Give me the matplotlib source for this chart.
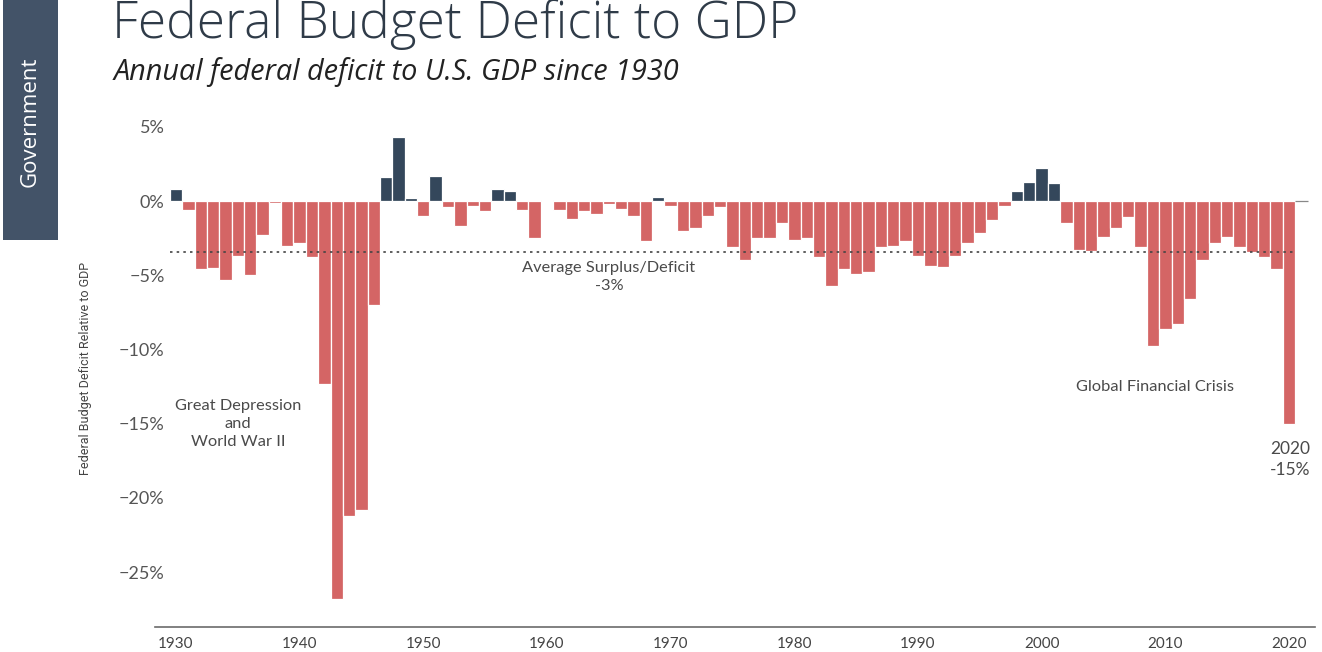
import matplotlib
matplotlib.use("Agg")
import matplotlib.pyplot as plt
import matplotlib.ticker as mticker
import numpy as np
from matplotlib.patches import Rectangle

years = list(range(1930, 2022))
deficit_pct = [
    0.8, -0.6, -4.6, -4.5, -5.3, -3.7, -5.0, -2.3, -0.1, -3.0,   # 1930s
    -2.8, -3.8, -12.3, -26.8, -21.2, -20.8, -7.0, 1.6, 4.3, 0.2,  # 1940s
    -1.0, 1.7, -0.4, -1.7, -0.3, -0.7, 0.8, 0.7, -0.6, -2.5,      # 1950s
    0.05, -0.6, -1.2, -0.7, -0.9, -0.2, -0.5, -1.0, -2.7, 0.3,    # 1960s
    -0.3, -2.0, -1.8, -1.0, -0.4, -3.1, -4.0, -2.5, -2.5, -1.5,   # 1970s
    -2.6, -2.5, -3.8, -5.7, -4.6, -4.9, -4.8, -3.1, -3.0, -2.7,   # 1980s
    -3.7, -4.35, -4.45, -3.7, -2.8, -2.15, -1.3, -0.3, 0.7, 1.3,  # 1990s
    2.25, 1.2, -1.45, -3.3, -3.35, -2.45, -1.8, -1.1, -3.1, -9.75, # 2000s
    -8.6, -8.3, -6.6, -4.0, -2.8, -2.45, -3.1, -3.4, -3.8, -4.6,  # 2010s
    -15.0, 0.0,                                                   # 2020, 2021
]
average_pct = -3.4
x_ticks = [1930, 1940, 1950, 1960, 1970, 1980, 1990, 2000, 2010, 2020]
y_ticks = [5, 0, -5, -10, -15, -20, -25]

RED = "#D46565"
DARK = "#34475B"
TXT = "#4A4A4A"

plt.rcParams['font.family'] = ['Lato', 'DejaVu Sans']

fig = plt.figure(figsize=(13.22, 6.52), dpi=100)
ax = fig.add_axes([0.1172, 0.0383, 0.8775, 0.7853])

colors = []
for y, v in zip(years, deficit_pct):
    if v > 0:
        colors.append(DARK)
    elif v == 0:
        colors.append("#888888")
    else:
        colors.append(RED)
edges = ["#888888" if v == 0 else "white" for v in deficit_pct]
ax.bar(years, deficit_pct, width=1.0, color=colors, edgecolor=edges, linewidth=0.9)

ax.hlines(average_pct, years[0] - 0.5, years[-2] + 0.5, colors="#444444",
          linestyles=(0, (1.5, 2.5)), linewidth=1.2, zorder=3)

ax.set_xlim(1928.3, 2022.1)
ax.set_ylim(-28.7, 5.8)

for s in ["top", "right", "left"]:
    ax.spines[s].set_visible(False)
ax.spines["bottom"].set_color("#6B6B6B")
ax.spines["bottom"].set_linewidth(1.2)

ax.set_xticks(x_ticks)
ax.set_yticks(y_ticks)
ax.yaxis.set_major_formatter(mticker.FuncFormatter(
    lambda v, p: (f"{int(v)}%" if v >= 0 else f"\u2212{int(-v)}%")))
ax.tick_params(axis="y", length=0, pad=-7, labelsize=13, labelcolor="#555555")
ax.tick_params(axis="x", length=0, pad=7, labelsize=11, labelcolor="#444444")

ax.set_ylabel("Federal Budget Deficit Relative to GDP", fontsize=9,
              color="#444444", family=['Roboto', 'DejaVu Sans'])
ax.yaxis.set_label_coords(-0.054, 0.506)

# annotations
ax.text(1935.0, -15.0, "Great Depression\nand\nWorld War II", ha="center", va="center",
        fontsize=11.8, color=TXT, linespacing=1.35)
ax.text(1965.0, -5.1, "Average Surplus/Deficit\n-3%", ha="center", va="center",
        fontsize=11.8, color=TXT, linespacing=1.35)
ax.text(2009.2, -12.5, "Global Financial Crisis", ha="center", va="center",
        fontsize=11.8, color=TXT)
ax.text(2020.1, -17.4, "2020\n-15%", ha="center", va="center",
        fontsize=12.5, color=TXT, linespacing=1.35)

# title & subtitle
fig.text(0.085, 0.942, "Federal Budget Deficit to GDP", fontsize=37,
         color="#2F3B48", family=['Open Sans', 'DejaVu Sans'], fontweight="light",
         va="baseline")
fig.text(0.086, 0.878, "Annual federal deficit to U.S. GDP since 1930", fontsize=20.8,
         color="#222222", family=['Open Sans', 'DejaVu Sans'], style="italic",
         va="baseline")

# side tab
fig.patches.append(Rectangle((3 / 1322, 1 - 240 / 652), 55 / 1322, 240 / 652,
                             transform=fig.transFigure, facecolor="#435368",
                             edgecolor="none"))
fig.text(30.5 / 1322, 1 - 122 / 652, "Government", rotation=90, ha="center",
         va="center", fontsize=16, color="white",
         family=['Open Sans', 'DejaVu Sans'])

fig.savefig("out.png", dpi=100)
